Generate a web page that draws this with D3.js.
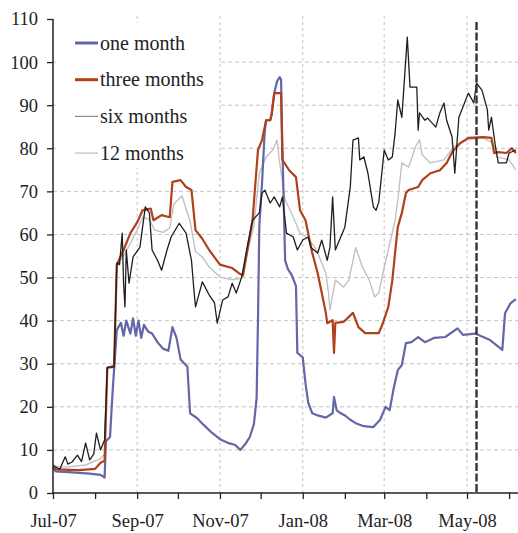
<!DOCTYPE html>
<html>
<head>
<meta charset="utf-8">
<script src="https://cdn.jsdelivr.net/npm/d3@7"></script>
<style>
  html, body { margin: 0; padding: 0; background: #fff; }
  svg { display: block; }
  .serif { font-family: "Liberation Serif"; }
</style>
</head>
<body>
<svg id="chart" width="518" height="533"></svg>
<script>
// ---------- data (basis points) ----------
const seriesNames = ["one month", "three months", "six months", "12 months"];

const oneMonth = [
  ["2007-07-01",6.0],["2007-07-03",5.0],["2007-07-15",4.8],["2007-07-28",4.5],["2007-08-05",4.2],["2007-08-08",3.6],
  ["2007-08-09",12],["2007-08-12",13],["2007-08-14",24],["2007-08-17",37.8],["2007-08-20",39.5],["2007-08-22",36.5],
  ["2007-08-24",40],["2007-08-27",37],["2007-08-29",40.5],["2007-08-31",36.5],["2007-09-02",40],["2007-09-04",36],
  ["2007-09-06",39],["2007-09-09",37.5],["2007-09-12",37],["2007-09-16",35],["2007-09-20",33.5],["2007-09-24",33],
  ["2007-09-27",38.5],["2007-09-30",36],["2007-10-03",31],["2007-10-08",29.3],["2007-10-10",18.5],["2007-10-15",17.4],
  ["2007-10-20",15.8],["2007-10-26",14],["2007-11-01",12.5],["2007-11-08",11.5],["2007-11-12",11.2],["2007-11-16",10],
  ["2007-11-20",11.5],["2007-11-23",13],["2007-11-26",16],["2007-11-28",22],["2007-11-29",40],["2007-11-30",62],
  ["2007-12-02",72],["2007-12-04",84],["2007-12-05",86.5],["2007-12-08",86.5],["2007-12-09",87.7],["2007-12-11",92.8],
  ["2007-12-13",95.5],["2007-12-15",96.5],["2007-12-16",96],["2007-12-17",80],["2007-12-19",54],["2007-12-21",52],
  ["2007-12-24",50.5],["2007-12-27",48],["2007-12-28",32.5],["2008-01-01",31.5],["2008-01-03",25.5],["2008-01-05",21],
  ["2008-01-08",18.5],["2008-01-12",18],["2008-01-18",17.5],["2008-01-23",18.5],["2008-01-24",22.3],["2008-01-26",19.2],
  ["2008-01-29",18.5],["2008-02-01",18],["2008-02-05",17],["2008-02-09",16.2],["2008-02-15",15.5],["2008-02-22",15.3],
  ["2008-02-27",17],["2008-03-02",20],["2008-03-05",19.2],["2008-03-08",24.3],["2008-03-11",28.5],["2008-03-14",29.7],
  ["2008-03-17",34.8],["2008-03-21",35],["2008-03-26",36.2],["2008-03-31",35],["2008-04-07",36],["2008-04-15",36.2],
  ["2008-04-24",38.2],["2008-04-28",36.7],["2008-05-07",37],["2008-05-18",35.5],["2008-05-27",33.2],["2008-05-29",41.7],
  ["2008-06-02",44],["2008-06-06",45]
];

const threeMonths = [
  ["2007-07-01",6],["2007-07-03",5.5],["2007-07-20",5.3],["2007-08-01",5.6],["2007-08-05",7],["2007-08-08",7.5],
  ["2007-08-10",29],["2007-08-15",29.5],["2007-08-17",53],["2007-08-22",56.4],["2007-08-27",60.3],["2007-09-01",62.8],
  ["2007-09-05",65.6],["2007-09-11",66],["2007-09-13",63.3],["2007-09-19",64.5],["2007-09-25",64],["2007-09-27",72.2],
  ["2007-10-03",72.6],["2007-10-07",71],["2007-10-11",70.3],["2007-10-14",61],["2007-10-19",59],["2007-10-24",56.4],
  ["2007-11-01",53],["2007-11-10",52.2],["2007-11-15",51],["2007-11-18",50.5],["2007-11-21",56],["2007-11-25",63.3],
  ["2007-11-29",79.6],["2007-12-02",81.9],["2007-12-05",86.5],["2007-12-08",86.5],["2007-12-09",87.7],["2007-12-11",92.8],
  ["2007-12-16",92.8],["2007-12-17",77.3],["2007-12-22",74.9],["2007-12-27",73.3],["2007-12-30",65.6],["2008-01-03",63.3],
  ["2008-01-08",55.7],["2008-01-12",51],["2008-01-15",46.4],["2008-01-18",41.8],["2008-01-19",39.4],["2008-01-23",40.1],
  ["2008-01-24",32.5],["2008-01-25",39.5],["2008-01-31",39.7],["2008-02-07",41.8],["2008-02-11",38.5],["2008-02-16",37.1],
  ["2008-02-26",37.1],["2008-02-29",39.4],["2008-03-04",43.2],["2008-03-07",49.4],["2008-03-09",55.7],["2008-03-11",61.7],
  ["2008-03-14",65],["2008-03-17",69.6],["2008-03-19",70.3],["2008-03-26",71],["2008-03-29",72.6],["2008-04-04",74.2],
  ["2008-04-11",74.9],["2008-04-16",76.6],["2008-04-20",79.1],["2008-04-26",81.2],["2008-05-02",82.4],["2008-05-13",82.6],
  ["2008-05-19",82.4],["2008-05-21",78.9],["2008-05-24",79.1],["2008-05-30",78.9],["2008-06-03",80],["2008-06-06",78.9]
];

const sixMonths = [
  ["2007-07-01",6.5],["2007-07-03",6],["2007-07-06",5.5],["2007-07-10",8.4],["2007-07-12",6.7],["2007-07-15",7.2],
  ["2007-07-19",8.8],["2007-07-22",7.3],["2007-07-25",11.6],["2007-07-28",7.7],["2007-07-31",9],["2007-08-02",13.9],
  ["2007-08-05",10],["2007-08-08",12.3],["2007-08-10",29.2],["2007-08-15",29.2],["2007-08-17",53.4],["2007-08-19",53],
  ["2007-08-21",60.3],["2007-08-22",48.7],["2007-08-23",43.2],["2007-08-24",56.4],["2007-08-26",48.7],["2007-08-29",54.8],
  ["2007-09-03",57],["2007-09-07",66.4],["2007-09-10",65],["2007-09-12",56.4],["2007-09-16",54],["2007-09-19",51.7],
  ["2007-09-23",56.4],["2007-09-26",59.4],["2007-10-02",62.6],["2007-10-07",60.3],["2007-10-11",54],["2007-10-13",46.4],
  ["2007-10-14",43.2],["2007-10-19",49],["2007-10-24",46],["2007-10-28",44.1],["2007-10-30",39.4],["2007-11-03",44.8],
  ["2007-11-07",45.5],["2007-11-10",48.7],["2007-11-13",46.4],["2007-11-17",50.1],["2007-11-21",57],["2007-11-25",63.3],
  ["2007-11-30",65],["2007-12-02",69.6],["2007-12-04",70.3],["2007-12-08",67.3],["2007-12-11",68.7],["2007-12-15",66.4],
  ["2007-12-17",68.7],["2007-12-20",60.3],["2007-12-25",59.4],["2007-12-28",56.4],["2008-01-01",58.7],["2008-01-05",59.4],
  ["2008-01-07",57],["2008-01-12",55.7],["2008-01-15",58.7],["2008-01-19",54],["2008-01-21",57],["2008-01-23",68.7],
  ["2008-01-25",56.4],["2008-01-29",59.4],["2008-02-01",61.7],["2008-02-05",71],["2008-02-07",81.9],["2008-02-11",82.4],
  ["2008-02-12",77.3],["2008-02-15",78],["2008-02-18",74.2],["2008-02-22",66.4],["2008-02-24",65.6],["2008-02-26",67.5],
  ["2008-03-01",79.6],["2008-03-04",77.3],["2008-03-07",78],["2008-03-09",83.5],["2008-03-11",91.2],["2008-03-14",87.2],
  ["2008-03-18",105.8],["2008-03-20",94.2],["2008-03-25",94.2],["2008-03-26",84.2],["2008-03-27",88.2],["2008-03-31",86.5],
  ["2008-04-02",87],["2008-04-08",84.9],["2008-04-11",88.2],["2008-04-14",90.5],["2008-04-16",86.5],["2008-04-20",82.6],
  ["2008-04-22",74.2],["2008-04-25",87.2],["2008-04-28",89.6],["2008-05-02",92.8],["2008-05-06",90.5],["2008-05-08",95.1],
  ["2008-05-12",93.5],["2008-05-16",88.9],["2008-05-17",84.2],["2008-05-19",87.2],["2008-05-22",80.3],["2008-05-24",76.6],
  ["2008-05-30",76.6],["2008-06-01",78.9],["2008-06-06",79.6]
];

const twelveMonths = [
  ["2007-07-01",6.2],["2007-07-10",6],["2007-07-25",6.5],["2007-08-05",8],["2007-08-08",9],["2007-08-10",29],
  ["2007-08-15",29],["2007-08-17",53],["2007-08-22",55],["2007-08-27",58],["2007-09-01",61],["2007-09-05",64],
  ["2007-09-10",63.5],["2007-09-14",61],["2007-09-20",60.5],["2007-09-25",61.5],["2007-09-28",67],["2007-10-04",69],
  ["2007-10-10",63],["2007-10-14",56],["2007-10-19",54.8],["2007-10-24",52.5],["2007-11-01",50.1],["2007-11-10",49.5],
  ["2007-11-17",49.8],["2007-11-22",57],["2007-11-26",62],["2007-11-30",74.2],["2007-12-05",78],["2007-12-10",79.6],
  ["2007-12-13",81.9],["2007-12-15",76.6],["2007-12-19",68],["2007-12-25",64],["2007-12-30",60.3],["2008-01-05",59],
  ["2008-01-10",57],["2008-01-12",55.7],["2008-01-18",51],["2008-01-20",46.4],["2008-01-21",42.5],["2008-01-25",49.4],
  ["2008-01-31",47.8],["2008-02-04",49.4],["2008-02-09",57],["2008-02-14",52.4],["2008-02-19",49.4],["2008-02-23",45.5],
  ["2008-02-26",46.4],["2008-02-29",51],["2008-03-04",56.4],["2008-03-09",63.3],["2008-03-11",68],["2008-03-14",76.6],
  ["2008-03-19",75.6],["2008-03-24",80.3],["2008-03-27",82],["2008-03-29",78.5],["2008-04-04",76.6],["2008-04-14",77.3],
  ["2008-04-21",80.3],["2008-05-01",81.9],["2008-05-13",82.4],["2008-05-20",81.2],["2008-05-23",78],["2008-06-01",77.3],
  ["2008-06-06",75]
];

const yTicks = [0,10,20,30,40,50,60,70,80,90,100,110];
const markerDate = "2008-05-08";

// ---------- layout ----------
const FONT = "Liberation Serif";
const svg = d3.select("#chart");
const parse = d3.timeParse("%Y-%m-%d");
const plotLeft = 53, plotBottom = 493, plotTop = 19, plotRight = 518.6;

const x = d3.scaleTime()
  .domain([parse("2007-07-01"), parse("2008-06-08")])
  .range([plotLeft, plotRight]);
const y = d3.scaleLinear().domain([0, 110]).range([plotBottom, plotTop]);

const monthTicks = d3.timeMonth.range(parse("2007-07-01"), parse("2008-07-01"));
const fmt = d3.timeFormat("%b-%y");

// gridlines
const grid = svg.append("g");
grid.selectAll("line.h").data(yTicks.filter(v => v > 0 && v < 110)).join("line")
  .attr("class", "h")
  .attr("x1", plotLeft).attr("x2", 518).attr("y1", d => y(d)).attr("y2", d => y(d))
  .attr("stroke", "#c4c4c4").attr("stroke-width", 1).attr("stroke-dasharray", "4,3");
grid.selectAll("line.v").data(monthTicks.filter((d, i) => i % 2 === 0 && i > 0)).join("line")
  .attr("class", "v")
  .attr("x1", d => x(d)).attr("x2", d => x(d)).attr("y1", plotTop - 3).attr("y2", plotBottom)
  .attr("stroke", "#c4c4c4").attr("stroke-width", 1).attr("stroke-dasharray", "3,3");

// legend background (covers gridlines)
svg.append("rect").attr("x", 56).attr("y", 23).attr("width", 162).attr("height", 145).attr("fill", "#fff");

// lines
const line = d3.line().x(d => x(parse(d[0]))).y(d => y(d[1]));
const styles = [
  {data: twelveMonths, color: "#c2c2c2", width: 1.4},
  {data: oneMonth, color: "#6466aa", width: 2.2},
  {data: threeMonths, color: "#b0401a", width: 2.2},
  {data: sixMonths, color: "#1e1e1e", width: 1.3}
];
svg.append("g").selectAll("path").data(styles).join("path")
  .attr("d", d => line(d.data))
  .attr("fill", "none")
  .attr("stroke", d => d.color)
  .attr("stroke-width", d => d.width)
  .attr("stroke-linejoin", "round");

// vertical marker
svg.append("line")
  .attr("x1", x(parse(markerDate))).attr("x2", x(parse(markerDate)))
  .attr("y1", 22).attr("y2", plotBottom)
  .attr("stroke", "#333").attr("stroke-width", 2.4).attr("stroke-dasharray", "8,2.5");

// axes
const yAxis = d3.axisLeft(y).tickValues(yTicks).tickSize(6).tickPadding(9);
const gy = svg.append("g").attr("transform", `translate(${plotLeft},0)`).call(yAxis)
  .attr("font-family", FONT).attr("font-size", 18.5);
gy.select(".domain").remove();
gy.selectAll(".tick line").attr("stroke", "#222").attr("stroke-width", 1.3);
gy.selectAll(".tick text").attr("fill", "#222").attr("class", "serif");

const xAxis = d3.axisBottom(x).tickValues(monthTicks).tickSize(6).tickPadding(15)
  .tickFormat((d, i) => i % 2 === 0 ? fmt(d) : "");
const gx = svg.append("g").attr("transform", `translate(0,${plotBottom})`).call(xAxis)
  .attr("font-family", FONT).attr("font-size", 18.5);
gx.select(".domain").remove();
gx.selectAll(".tick line").attr("stroke", "#222").attr("stroke-width", 1.3);
gx.selectAll(".tick text").attr("fill", "#222").attr("class", "serif");

svg.append("line").attr("x1", plotLeft).attr("x2", 518).attr("y1", plotBottom).attr("y2", plotBottom)
  .attr("stroke", "#222").attr("stroke-width", 1.5);
svg.append("line").attr("x1", plotLeft).attr("x2", plotLeft).attr("y1", plotTop).attr("y2", plotBottom)
  .attr("stroke", "#222").attr("stroke-width", 1.5);

// legend
const legendColors = ["#6466aa", "#b0401a", "#8a8a8a", "#cccccc"];
const legendWidths = [3, 3, 1.2, 1.5];
const lg = svg.append("g").attr("font-family", FONT).attr("font-size", 20);
seriesNames.forEach((name, i) => {
  const cy = 43 + i * 36.7;
  lg.append("line").attr("x1", 75).attr("x2", 98).attr("y1", cy).attr("y2", cy)
    .attr("stroke", legendColors[i]).attr("stroke-width", legendWidths[i]);
  lg.append("text").attr("class", "serif").attr("x", 100).attr("y", cy + 6.5)
    .attr("fill", "#222").text(name);
});
</script>
</body>
</html>
